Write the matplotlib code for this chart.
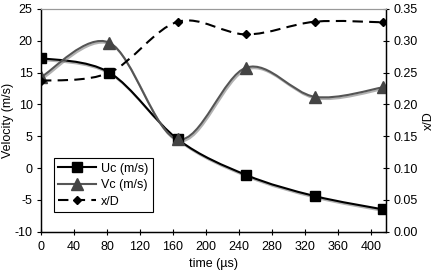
import matplotlib
matplotlib.use('Agg')
import matplotlib.pyplot as plt
import matplotlib.patheffects as pe
from matplotlib.path import Path
from matplotlib.patches import PathPatch
from matplotlib.lines import Line2D

plt.rcParams['font.family'] = ['Liberation Sans', 'DejaVu Sans']
plt.rcParams['axes.unicode_minus'] = False

# data
time_us = [0, 83, 166, 249, 332, 415]
uc = [17.3, 15.0, 4.5, -1.1, -4.4, -6.5]
vc = [14.3, 19.7, 4.5, 15.8, 11.2, 12.7]
x_over_d = [0.237, 0.250, 0.330, 0.310, 0.330, 0.329]

x_ticks = list(range(0, 401, 40))
v_ticks = list(range(-10, 26, 5))
xd_ticks = [0.00, 0.05, 0.10, 0.15, 0.20, 0.25, 0.30, 0.35]

FS = 9


def smooth_path(xs, ys):
    """Excel-style smoothed line as a cubic bezier path (catmull-rom control points)"""
    pts = list(zip(xs, ys))
    n = len(pts)
    verts = [pts[0]]
    codes = [Path.MOVETO]
    for i in range(n - 1):
        p0 = pts[max(i - 1, 0)]
        p1 = pts[i]
        p2 = pts[i + 1]
        p3 = pts[min(i + 2, n - 1)]
        c1 = (p1[0] + (p2[0] - p0[0]) / 6, p1[1] + (p2[1] - p0[1]) / 6)
        c2 = (p2[0] - (p3[0] - p1[0]) / 6, p2[1] - (p3[1] - p1[1]) / 6)
        verts += [c1, c2, p2]
        codes += [Path.CURVE4] * 3
    return Path(verts, codes)


fig = plt.figure(figsize=(4.36, 2.72), dpi=100)
ax = fig.add_axes([0.094, 0.148, 0.791, 0.819])
ax2 = ax.twinx()

shadow = [pe.SimpleLineShadow(offset=(0.8, -1.2), shadow_color='0.5', alpha=0.6), pe.Normal()]

# Uc
ax.add_patch(PathPatch(smooth_path(time_us, uc), fill=False, edgecolor='black', lw=1.5,
                       path_effects=shadow, zorder=3))
ax.plot(time_us, uc, ls='none', marker='s', ms=7.5, color='black', zorder=4)

# Vc
ax.add_patch(PathPatch(smooth_path(time_us, vc), fill=False, edgecolor='#555555', lw=1.5,
                       path_effects=shadow, zorder=3))
ax.plot(time_us, vc, ls='none', marker='^', ms=8, color='#444444', zorder=4)

# x/D
ax2.add_patch(PathPatch(smooth_path(time_us, x_over_d), fill=False, edgecolor='black', lw=1.5,
                        linestyle=(0, (5, 3)), zorder=3))
ax2.plot(time_us, x_over_d, ls='none', marker='D', ms=4.5, color='black', zorder=4)

ax.set_xlim(0, 418)
ax.set_ylim(-10, 25)
ax2.set_ylim(0, 0.35)
ax.set_xticks(x_ticks)
ax.set_yticks(v_ticks)
ax2.set_yticks(xd_ticks)
ax2.set_yticklabels(['%.2f' % v for v in xd_ticks])

ax.tick_params(axis='x', direction='inout', length=4, labelsize=FS, pad=5)
ax.tick_params(axis='y', direction='out', length=3, labelsize=FS, pad=3)
ax2.tick_params(axis='y', direction='inout', length=5, labelsize=FS, pad=3)

for a in (ax, ax2):
    a.spines['top'].set_color('0.6')
    a.spines['top'].set_linewidth(0.8)
    a.spines['left'].set_linewidth(0.9)
    a.spines['right'].set_linewidth(0.9)
    a.spines['bottom'].set_linewidth(0.9)

ax.set_xlabel('time (µs)', fontsize=FS, labelpad=3)
ax.set_ylabel('Velocity (m/s)', fontsize=FS)
ax.yaxis.set_label_coords(-0.078, 0.5)
ax2.set_ylabel('x/D', fontsize=FS)
ax2.yaxis.set_label_coords(1.108, 0.5)

handles = [
    Line2D([], [], color='black', lw=1.5, marker='s', ms=7.5),
    Line2D([], [], color='#555555', lw=1.5, marker='^', ms=8, mfc='#444444', mec='#444444'),
    Line2D([], [], color='black', lw=1.5, ls=(0, (5, 3)), marker='D', ms=4.5),
]
leg = ax.legend(handles, ['Uc (m/s)', 'Vc (m/s)', 'x/D'], loc='lower left',
                bbox_to_anchor=(0.038, 0.088), borderaxespad=0, fancybox=False,
                edgecolor='black', framealpha=1, fontsize=FS, handlelength=3.0,
                handletextpad=0.4, labelspacing=0.37, borderpad=0.35)
leg.get_frame().set_linewidth(0.8)
leg.set_zorder(10)

fig.savefig('out.png', dpi=100)
